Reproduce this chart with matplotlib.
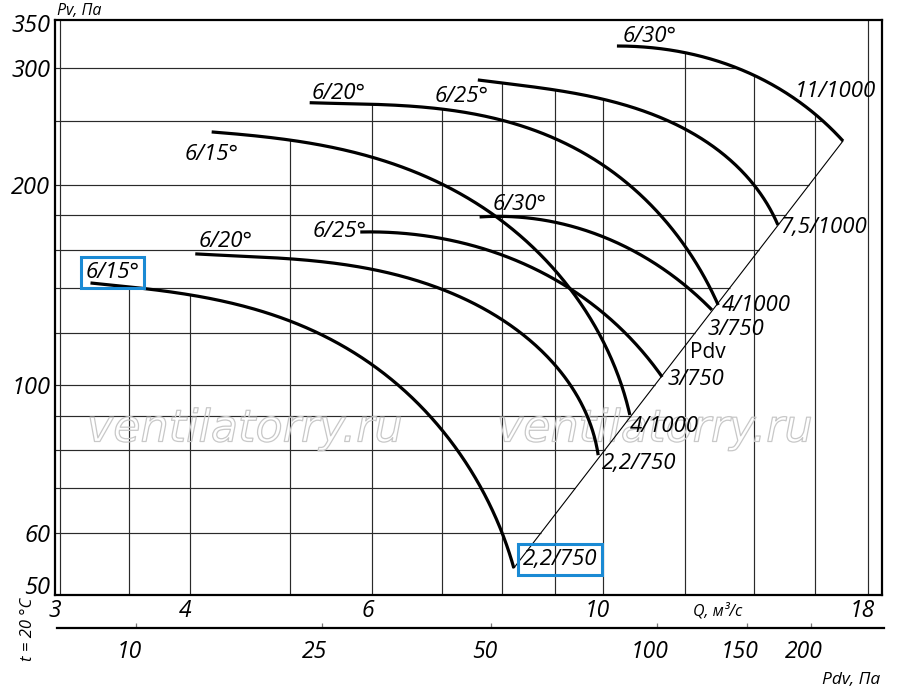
import numpy as np
import matplotlib
matplotlib.use("Agg")
import matplotlib.pyplot as plt
from matplotlib import patheffects as pe
from matplotlib.transforms import ScaledTranslation

# ---------------- data ----------------
q_ticks = [3, 4, 6, 10, 18]
p_ticks = [50, 60, 100, 200, 300, 350]
q_grid = [3, 3.5, 4, 5, 6, 7, 8, 9, 10, 12, 14, 16, 18]
p_grid = [60, 70, 80, 90, 100, 120, 140, 160, 180, 200, 250, 300]

pdv_tick_labels = [10, 25, 50, 100, 150, 200]
pdv_tick_q = [3.55, 5.36, 7.81, 11.28, 13.77, 15.87]

curve_names = ["6/15°", "6/20°", "6/25°", "6/30°"]
motors_750 = ["2,2/750", "2,2/750", "3/750", "3/750"]
motors_1000 = ["4/1000", "4/1000", "7,5/1000", "11/1000"]

# 750 rpm family (Q, m3/s ; Pv, Pa)
q_750_15 = [3.21, 3.50, 3.99, 4.99, 6.01, 6.62, 7.34, 7.67, 8.02, 8.21]
p_750_15 = [142.5, 140.1, 136.7, 125.4, 108.0, 92.8, 77.2, 69.8, 60.0, 53.1]
q_750_20 = [4.05, 4.99, 6.01, 7.02, 7.96, 8.51, 8.96, 9.34, 9.64, 9.90]
p_750_20 = [157.6, 154.9, 149.1, 140.1, 124.5, 117.0, 109.1, 99.1, 90.2, 78.5]
q_750_25 = [5.84, 7.02, 8.02, 8.99, 9.94, 10.70, 11.41]
p_750_25 = [170.0, 163.7, 158.7, 145.5, 128.4, 115.7, 102.9]
q_750_30 = [7.61, 8.02, 8.99, 9.72, 10.62, 12.03, 12.74]
p_750_30 = [179.1, 178.5, 175.4, 171.2, 160.3, 140.1, 129.8]

# 1000 rpm family
q_1000_15 = [4.20, 4.99, 6.01, 7.02, 8.02, 8.51, 9.05, 9.66, 10.10, 10.43, 10.62]
p_1000_15 = [240.4, 233.8, 219.6, 200.1, 178.5, 162.5, 144.0, 128.4, 114.2, 101.9, 90.2]
q_1000_20 = [5.22, 6.01, 7.02, 8.02, 8.90, 9.72, 10.62, 11.35, 12.06, 12.49, 12.92]
p_1000_20 = [266.0, 265.0, 260.3, 248.8, 236.2, 221.9, 200.7, 179.7, 160.3, 145.5, 132.0]
q_1000_25 = [7.58, 8.02, 8.99, 10.03, 12.00, 12.74, 13.71, 14.33, 14.75]
p_1000_25 = [287.8, 286.8, 278.0, 266.7, 246.3, 227.4, 207.1, 189.9, 174.2]
q_1000_30 = [10.32, 12.00, 13.56, 13.99, 14.91, 16.09, 17.04]
p_1000_30 = [323.7, 313.8, 300.0, 295.9, 275.1, 252.3, 233.0]

# system (dynamic pressure) line through the curve ends
pdv_line_q = [8.21, 17.04]
pdv_line_p = [53.1, 233.0]

# ---------------- layout ----------------
W, H = 900, 690
FONT = ["Open Sans", "DejaVu Sans"]
plt.rcParams["font.family"] = FONT
BLUE = "#1a8ad4"
PX = 0.72  # points per pixel at 100 dpi
SX, SY = 1038.0, 665.0  # pixels per decade (x, y)

fig = plt.figure(figsize=(9, 6.9), dpi=100)
ax = fig.add_axes([55 / W, 1 - 595 / H, (882 - 55) / W, (595 - 20) / H])
ax.set_xscale("log")
ax.set_yscale("log")
XLIM = (2.967, 18.58)
YLIM = (48.37, 354.2)
ax.set_xlim(*XLIM)
ax.set_ylim(*YLIM)
ax.minorticks_off()
ax.set_xticks(q_ticks)
ax.set_xticklabels([str(v) for v in q_ticks], fontsize=16.5, style="italic")
ax.set_yticks(p_ticks)
ax.set_yticklabels([str(v) for v in p_ticks], fontsize=17, style="italic")
ax.tick_params(axis="both", length=0)
ax.tick_params(axis="y", pad=3.5)
ax.tick_params(axis="x", pad=3)
shift = ScaledTranslation(-5 / 100, 0, fig.dpi_scale_trans)
for t in ax.get_xticklabels():
    t.set_transform(t.get_transform() + shift)
for s in ax.spines.values():
    s.set_linewidth(1.6)
    s.set_color("black")


def smooth(q, p, n=240):
    """smooth parametric cubic/quartic fit through the read points (log space)"""
    x = np.log10(q) * SX
    y = np.log10(p) * SY
    d = np.hypot(np.diff(x), np.diff(y))
    s = np.concatenate([[0], np.cumsum(d)])
    s = s / s[-1]
    deg = 3 if len(q) <= 7 else 4
    w = np.ones(len(q))
    w[0] = w[-1] = 20.0
    cx = np.polyfit(s, x, deg, w=w)
    cy = np.polyfit(s, y, deg, w=w)
    ss = np.linspace(0, 1, n)
    xs = np.polyval(cx, ss)
    ys = np.polyval(cy, ss)
    xs[0], ys[0], xs[-1], ys[-1] = x[0], y[0], x[-1], y[-1]
    return 10 ** (xs / SX), 10 ** (ys / SY)


fam_750 = [(q_750_15, p_750_15), (q_750_20, p_750_20),
           (q_750_25, p_750_25), (q_750_30, p_750_30)]
fam_1000 = [(q_1000_15, p_1000_15), (q_1000_20, p_1000_20),
            (q_1000_25, p_1000_25), (q_1000_30, p_1000_30)]
smoothed = [smooth(q, p) for q, p in fam_750 + fam_1000]

# ---------------- grid (bounded by the curves / Pdv line) ----------------
GRID_C = "#2a2a2a"
for qg in q_grid:
    tops = []
    for sq, sp in smoothed:
        if sq[0] <= qg <= sq[-1]:
            tops.append(10 ** np.interp(np.log10(qg), np.log10(sq), np.log10(sp)))
    top = max(tops) if tops else YLIM[1]
    ax.vlines(qg, YLIM[0], top, color=GRID_C, lw=0.85, zorder=1)

lq = np.log10(pdv_line_q)
lp = np.log10(pdv_line_p)
slope = (lp[1] - lp[0]) / (lq[1] - lq[0])
sq_last, sp_last = smoothed[-1]
for pg in p_grid:
    if pg <= pdv_line_p[-1]:
        right = 10 ** (lq[0] + (np.log10(pg) - lp[0]) / slope)
    else:
        right = 10 ** np.interp(np.log10(pg), np.log10(sp_last[::-1]), np.log10(sq_last[::-1]))
    ax.hlines(pg, XLIM[0], right, color=GRID_C, lw=0.85, zorder=1)

# Pdv line
ax.plot(pdv_line_q, pdv_line_p, color="black", lw=0.8, zorder=2)

# ---------------- watermark ----------------
for cx in (245, 655):
    ax.text(cx / W, 1 - 429 / H, "ventilatorry.ru", transform=fig.transFigure,
            ha="center", va="center", fontsize=32, style="italic",
            family="DejaVu Sans", color=(1, 1, 1, 0), zorder=1.5,
            path_effects=[pe.Stroke(linewidth=0.9, foreground="#c8c8c8")])

# ---------------- curves ----------------
for sq, sp in smoothed:
    ax.plot(sq, sp, color="black", lw=2.3, solid_capstyle="butt", zorder=3)

# label offsets (pixels: left edge, baseline) relative to curve start / end
start_off_750 = [(-5, 5), (3, 7), (-48, -5), (13, 7)]
start_off_1000 = [(-27, -28), (2, 4), (-43, -22), (6, 4)]
end_off_750 = [(9, 3), (4, -14), (5, -8), (-4, -25)]
end_off_1000 = [(0, -17), (4, -6), (2, -8), (-48, 44)]
boxed_start = [True, False, False, False]
boxed_end = [True, False, False, False]

LAB = dict(fontsize=16, style="italic", ha="left", va="baseline", zorder=4,
           annotation_clip=False)


def lab(text, xy, off, boxed=False):
    kw = dict(LAB)
    if boxed:
        kw["bbox"] = dict(boxstyle="square,pad=0.22", fc="none", ec=BLUE, lw=2.2)
    ax.annotate(text, xy=xy, xytext=(off[0] * PX, off[1] * PX),
                textcoords="offset points", **kw)


for i, (q, p) in enumerate(fam_750):
    lab(curve_names[i], (q[0], p[0]), start_off_750[i], boxed_start[i])
    lab(motors_750[i], (q[-1], p[-1]), end_off_750[i], boxed_end[i])
for i, (q, p) in enumerate(fam_1000):
    lab(curve_names[i], (q[0], p[0]), start_off_1000[i])
    lab(motors_1000[i], (q[-1], p[-1]), end_off_1000[i])

fig.text(690 / W, 1 - 358 / H, "Pdv", fontsize=15, ha="left", va="baseline")

# ---------------- axis titles ----------------
fig.text(57 / W, 1 - 15 / H, "Pv, Па", fontsize=11.5, style="italic",
         ha="left", va="baseline")
fig.text(693 / W, 1 - 615 / H, "Q, м³/с", fontsize=11.5, style="italic",
         ha="left", va="baseline")
fig.text(822 / W, 1 - 684 / H, "Pdv, Па", fontsize=12.5, style="italic",
         ha="left", va="baseline")
fig.text(28.5 / W, 1 - 629.5 / H, "t = 20 °C", fontsize=12, style="italic",
         rotation=90, ha="center", va="center")

# ---------------- second (Pdv) scale ----------------
ax2 = fig.add_axes([57 / W, 1 - 628 / H, (884 - 57) / W, 0.0005])
ax2.set_xscale("log")
ax2.set_xlim(2.980, 18.66)
ax2.minorticks_off()
ax2.set_yticks([])
for k in ("top", "left", "right"):
    ax2.spines[k].set_visible(False)
ax2.spines["bottom"].set_linewidth(1.6)
ax2.patch.set_visible(False)
ax2.set_xticks(pdv_tick_q)
ax2.set_xticklabels([str(v) for v in pdv_tick_labels], fontsize=16.5, style="italic")
ax2.tick_params(axis="x", direction="in", length=3.8, width=0.9, color="#777777", pad=9)
shift2 = ScaledTranslation(-7 / 100, 0, fig.dpi_scale_trans)
for t in ax2.get_xticklabels():
    t.set_transform(t.get_transform() + shift2)

fig.savefig("out.png", dpi=100)
